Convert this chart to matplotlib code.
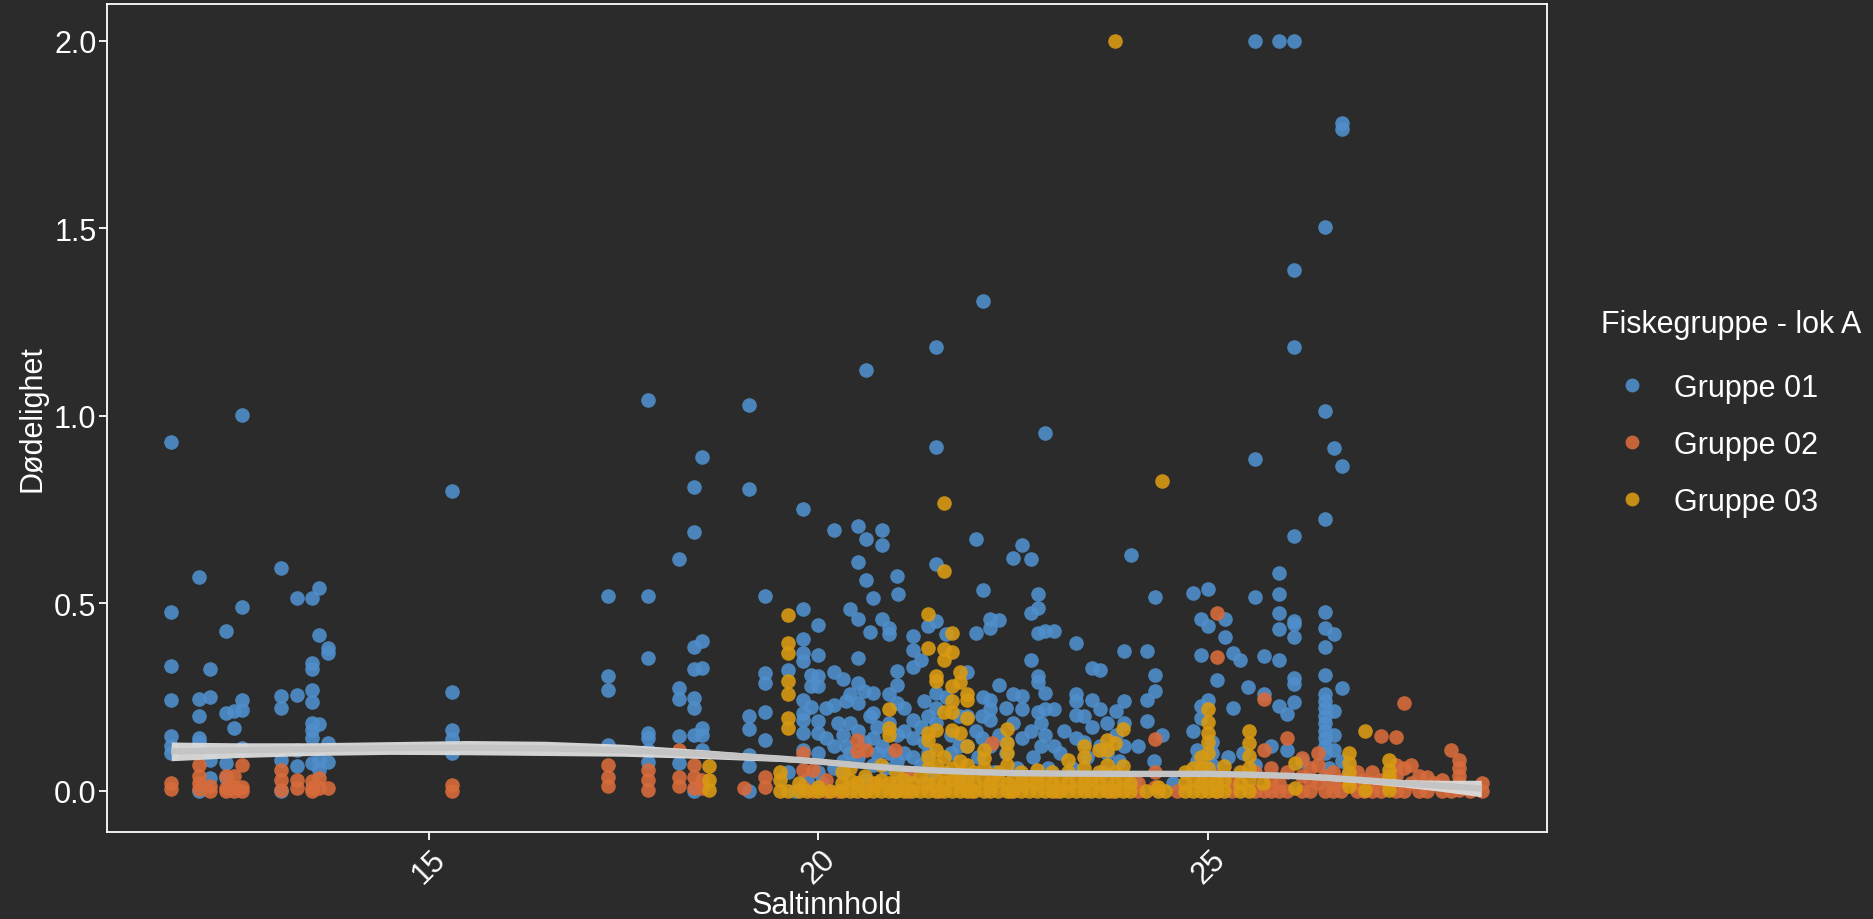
import matplotlib
matplotlib.use("Agg")
import matplotlib.pyplot as plt
from matplotlib.lines import Line2D
import numpy as np

plt.rcParams['font.family'] = ['Liberation Sans', 'DejaVu Sans']

# Salinity (x) with the mortality values measured at that salinity, per fish group
g01_columns = [
    (11.70, [0.93, 0.478, 0.332, 0.242, 0.147, 0.12, 0.10]),
    (12.05, [0.57, 0.246, 0.20, 0.14, 0.13, 0.0]),
    (12.20, [0.325, 0.25, 0.083, 0.034]),
    (12.40, [0.426, 0.208, 0.074, 0.034]),
    (12.51, [0.212, 0.168]),
    (12.61, [1.003, 0.49, 0.243, 0.215, 0.114]),
    (13.11, [0.595, 0.252, 0.221, 0.083, 0.0]),
    (13.31, [0.513, 0.255, 0.11, 0.065]),
    (13.50, [0.513, 0.341, 0.325, 0.268, 0.236, 0.18, 0.163, 0.14, 0.074]),
    (13.60, [0.54, 0.415, 0.178, 0.083, 0.056]),
    (13.71, [0.381, 0.368, 0.127, 0.078]),
    (15.30, [0.80, 0.264, 0.163, 0.138, 0.10]),
    (17.30, [0.52, 0.306, 0.27, 0.123]),
    (17.81, [1.043, 0.519, 0.353, 0.154, 0.14, 0.11, 0.078]),
    (18.21, [0.617, 0.275, 0.246, 0.145, 0.074]),
    (18.41, [0.81, 0.69, 0.383, 0.325, 0.248, 0.221, 0.15, 0.0]),
    (18.51, [0.889, 0.40, 0.328, 0.168, 0.15, 0.11]),
    (19.11, [1.028, 0.805, 0.199, 0.165, 0.096, 0.065, 0.0]),
    (19.31, [0.52, 0.313, 0.288, 0.21, 0.136]),
    (19.61, [0.323, 0.05]),
    (19.70, [0.0]),
    (19.80, [0.75, 0.484, 0.404, 0.368, 0.346, 0.243, 0.208, 0.19, 0.154, 0.11]),
    (19.85, [0.03]),
    (19.91, [0.31, 0.28, 0.224]),
    (20.00, [0.443, 0.362, 0.306, 0.279, 0.185, 0.154, 0.10, 0.05]),
    (20.05, [0.02]),
    (20.10, [0.22, 0.14]),
    (20.20, [0.696, 0.316, 0.23, 0.12, 0.06]),
    (20.25, [0.18]),
    (20.31, [0.297, 0.15, 0.08, 0.05]),
    (20.35, [0.24, 0.12]),
    (20.41, [0.486, 0.257, 0.18, 0.10]),
    (20.51, [0.707, 0.609, 0.459, 0.355, 0.288, 0.234, 0.16, 0.09]),
    (20.59, [0.266, 0.13]),
    (20.61, [1.123, 0.672, 0.561, 0.03]),
    (20.66, [0.424, 0.2]),
    (20.70, [0.515, 0.261, 0.207, 0.14, 0.07]),
    (20.75, [0.17, 0.1]),
    (20.81, [0.696, 0.656, 0.459, 0.12]),
    (20.85, [0.06]),
    (20.90, [0.435, 0.417, 0.257, 0.18, 0.1]),
    (21.01, [0.574, 0.319, 0.283, 0.233, 0.15, 0.08]),
    (21.02, [0.524]),
    (21.10, [0.22, 0.16, 0.1, 0.04]),
    (21.21, [0.413, 0.375, 0.33, 0.19, 0.14, 0.09]),
    (21.31, [0.35, 0.17, 0.07]),
    (21.35, [0.24, 0.13]),
    (21.41, [0.44, 0.2, 0.1]),
    (21.45, [0.05]),
    (21.51, [1.184, 0.916, 0.604, 0.453, 0.261, 0.22, 0.18]),
    (21.63, [0.417, 0.25]),
    (21.70, [0.15, 0.1]),
    (21.80, [0.2, 0.12]),
    (21.85, [0.04]),
    (21.91, [0.316, 0.2, 0.12]),
    (22.02, [0.672, 0.42, 0.16]),
    (22.05, [0.09]),
    (22.10, [0.2, 0.14]),
    (22.11, [1.307, 0.535, 0.25]),
    (22.20, [0.459, 0.435, 0.243, 0.217, 0.19, 0.12]),
    (22.25, [0.05]),
    (22.32, [0.455, 0.283, 0.15]),
    (22.40, [0.22, 0.13, 0.1]),
    (22.50, [0.62, 0.257, 0.18]),
    (22.55, [0.06]),
    (22.61, [0.656, 0.252, 0.217, 0.14]),
    (22.72, [0.617, 0.475, 0.348, 0.16]),
    (22.75, [0.09]),
    (22.81, [0.524, 0.488, 0.422, 0.307, 0.29, 0.21]),
    (22.85, [0.18, 0.12]),
    (22.91, [0.955, 0.426, 0.261, 0.217, 0.15]),
    (22.95, [0.06]),
    (23.02, [0.426, 0.217, 0.12]),
    (23.10, [0.1]),
    (23.15, [0.16]),
    (23.25, [0.06]),
    (23.30, [0.393, 0.257, 0.239, 0.203, 0.14]),
    (23.40, [0.2, 0.13]),
    (23.45, [0.09]),
    (23.51, [0.327, 0.243, 0.17]),
    (23.61, [0.322, 0.217, 0.12]),
    (23.65, [0.05]),
    (23.70, [0.18, 0.1]),
    (23.81, [0.214, 0.15]),
    (23.85, [0.08]),
    (23.92, [0.373, 0.239, 0.181, 0.119]),
    (24.01, [0.628]),
    (24.05, [0.03]),
    (24.10, [0.12]),
    (24.21, [0.372, 0.242, 0.185]),
    (24.30, [0.08]),
    (24.31, [0.518, 0.308, 0.266]),
    (24.40, [0.15]),
    (24.55, [0.02]),
    (24.80, [0.528, 0.159]),
    (24.85, [0.08, 0.11]),
    (24.91, [0.457, 0.362, 0.225, 0.194]),
    (25.00, [0.539, 0.44, 0.243]),
    (25.05, [0.07, 0.1, 0.13]),
    (25.11, [0.295]),
    (25.21, [0.459, 0.41]),
    (25.25, [0.09]),
    (25.31, [0.368, 0.221]),
    (25.41, [0.348]),
    (25.45, [0.1]),
    (25.51, [0.276]),
    (25.60, [2.0, 0.885, 0.516, 0.07]),
    (25.71, [0.359, 0.257]),
    (25.80, [0.12]),
    (25.90, [2.0, 0.58, 0.524, 0.475, 0.432, 0.35, 0.227]),
    (26.01, [0.205, 0.11]),
    (26.10, [2.0, 1.39, 1.184, 0.679, 0.453, 0.444, 0.41, 0.301, 0.286, 0.236]),
    (26.20, [0.08]),
    (26.50, [1.503, 1.012, 0.726, 0.478, 0.435, 0.383, 0.308, 0.257, 0.24,
             0.22, 0.20, 0.18, 0.16, 0.14, 0.12, 0.10]),
    (26.55, [0.06, 0.03]),
    (26.61, [0.914, 0.417, 0.212, 0.15, 0.11]),
    (26.71, [1.78, 1.765, 0.865, 0.275, 0.08]),
    (26.80, [0.05]),
]

g02_columns = [
    (11.70, [0.02, 0.005]),
    (12.05, [0.07, 0.04, 0.02, 0.005]),
    (12.20, [0.012, 0.0]),
    (12.40, [0.04, 0.007, 0.0]),
    (12.51, [0.04, 0.01, 0.0]),
    (12.61, [0.07, 0.01, 0.0]),
    (13.11, [0.056, 0.03, 0.003]),
    (13.31, [0.03, 0.007]),
    (13.50, [0.025, 0.007, 0.0]),
    (13.60, [0.034, 0.007]),
    (13.71, [0.007]),
    (15.30, [0.016, 0.0]),
    (17.30, [0.07, 0.038, 0.012]),
    (17.81, [0.056, 0.03, 0.003]),
    (18.21, [0.11, 0.038, 0.012]),
    (18.41, [0.07, 0.038, 0.007]),
    (18.51, [0.03, 0.007]),
    (19.05, [0.007]),
    (19.31, [0.038, 0.01]),
    (19.80, [0.10, 0.056, 0.01]),
    (19.93, [0.056, 0.0]),
    (20.10, [0.0, 0.03]),
    (20.25, [0.0]),
    (20.49, [0.136, 0.105, 0.02]),
    (20.61, [0.11, 0.0]),
    (20.75, [0.02]),
    (20.98, [0.11, 0.0]),
    (21.15, [0.04, 0.0]),
    (21.35, [0.02]),
    (21.55, [0.0]),
    (21.75, [0.03]),
    (21.95, [0.0]),
    (22.23, [0.127, 0.03]),
    (22.45, [0.0]),
    (22.65, [0.02]),
    (23.05, [0.0]),
    (23.45, [0.03]),
    (23.75, [0.0]),
    (24.10, [0.02, 0.0]),
    (24.31, [0.138, 0.05, 0.01]),
    (24.60, [0.0]),
    (24.95, [0.02]),
    (25.11, [0.475, 0.357, 0.04, 0.0]),
    (25.30, [0.0, 0.03]),
    (25.60, [0.0, 0.05]),
    (25.71, [0.245, 0.11, 0.0]),
    (25.80, [0.0, 0.03, 0.06]),
    (25.90, [0.0, 0.02]),
    (26.01, [0.141, 0.05, 0.0]),
    (26.20, [0.087, 0.04, 0.0]),
    (26.30, [0.0, 0.03, 0.06]),
    (26.40, [0.10, 0.07, 0.02]),
    (26.50, [0.0, 0.04]),
    (26.60, [0.0, 0.02, 0.05]),
    (26.70, [0.0, 0.03]),
    (26.90, [0.0, 0.02, 0.05]),
    (27.00, [0.0, 0.03]),
    (27.10, [0.0, 0.02, 0.05]),
    (27.21, [0.145, 0.0, 0.03]),
    (27.41, [0.143, 0.07, 0.0, 0.04]),
    (27.51, [0.233, 0.06, 0.0]),
    (27.60, [0.07, 0.02]),
    (27.70, [0.0, 0.04]),
    (27.81, [0.038, 0.0]),
    (27.90, [0.02]),
    (28.00, [0.0, 0.03]),
    (28.11, [0.11, 0.0]),
    (28.21, [0.083, 0.06, 0.04, 0.02, 0.003]),
    (28.35, [0.0]),
    (28.51, [0.02, 0.0]),
]

g03_columns = [
    (18.60, [0.065, 0.03, 0.003]),
    (19.51, [0.05, 0.03, 0.0]),
    (19.61, [0.47, 0.395, 0.368, 0.292, 0.257, 0.194, 0.168, 0.0]),
    (19.75, [0.0, 0.02]),
    (19.85, [0.0]),
    (19.99, [0.0, 0.01]),
    (20.15, [0.0]),
    (20.30, [0.0, 0.02, 0.05]),
    (20.40, [0.0, 0.03, 0.06]),
    (20.50, [0.0, 0.02]),
    (20.60, [0.0, 0.04]),
    (20.70, [0.0, 0.02]),
    (20.80, [0.0, 0.03, 0.07]),
    (20.90, [0.217, 0.168, 0.15, 0.0, 0.02]),
    (21.00, [0.0, 0.02, 0.05]),
    (21.10, [0.0, 0.03]),
    (21.20, [0.0, 0.02]),
    (21.30, [0.0, 0.04]),
    (21.41, [0.472, 0.381, 0.154, 0.136, 0.0, 0.02, 0.06, 0.09]),
    (21.51, [0.306, 0.292, 0.163, 0.11, 0.0, 0.03, 0.07]),
    (21.61, [0.767, 0.585, 0.377, 0.35, 0.21, 0.0, 0.02, 0.05, 0.09]),
    (21.71, [0.42, 0.37, 0.279, 0.239, 0.21, 0.163, 0.0, 0.03, 0.06]),
    (21.81, [0.316, 0.29, 0.154, 0.0, 0.02, 0.05, 0.08]),
    (21.91, [0.257, 0.243, 0.194, 0.119, 0.0, 0.03, 0.07]),
    (22.00, [0.0, 0.02, 0.05]),
    (22.12, [0.11, 0.087, 0.0, 0.03, 0.06]),
    (22.20, [0.0, 0.02]),
    (22.30, [0.0, 0.03, 0.05]),
    (22.42, [0.166, 0.127, 0.1, 0.0, 0.02, 0.07]),
    (22.50, [0.0, 0.03]),
    (22.60, [0.0, 0.02, 0.05]),
    (22.70, [0.0, 0.03]),
    (22.80, [0.056, 0.0, 0.02, 0.04]),
    (22.90, [0.0, 0.03]),
    (23.00, [0.0, 0.02, 0.05]),
    (23.10, [0.0, 0.03]),
    (23.20, [0.083, 0.0, 0.02, 0.05]),
    (23.30, [0.0, 0.03]),
    (23.40, [0.12, 0.0, 0.02, 0.06, 0.09]),
    (23.50, [0.0, 0.03]),
    (23.60, [0.11, 0.0, 0.02, 0.05]),
    (23.70, [0.136, 0.11, 0.0, 0.03, 0.07]),
    (23.80, [2.0, 0.127, 0.0, 0.02, 0.05]),
    (23.91, [0.166, 0.065, 0.0, 0.03]),
    (24.00, [0.0, 0.02]),
    (24.20, [0.0]),
    (24.35, [0.0, 0.01]),
    (24.41, [0.827]),
    (24.45, [0.0]),
    (24.70, [0.0, 0.02, 0.05]),
    (24.80, [0.0, 0.03, 0.06]),
    (24.90, [0.0, 0.02, 0.06, 0.09]),
    (25.00, [0.217, 0.183, 0.154, 0.0, 0.03, 0.06, 0.1, 0.13]),
    (25.10, [0.0, 0.02]),
    (25.20, [0.0, 0.03, 0.065]),
    (25.40, [0.0, 0.02, 0.05]),
    (25.52, [0.159, 0.127, 0.092, 0.0, 0.03, 0.06]),
    (25.70, [0.02]),
    (26.11, [0.074, 0.007]),
    (26.81, [0.10, 0.074, 0.05, 0.03, 0.012]),
    (27.01, [0.159, 0.003]),
    (27.32, [0.083, 0.056, 0.04, 0.02, 0.003]),
]

# Smoothed trend (loess) with its standard-error half width
trend_x = [11.7, 12.5, 13.5, 14.5, 15.5, 16.5, 17.5, 18.5, 19.0, 19.5, 20.0, 20.5, 21.0,
           21.5, 22.0, 22.5, 23.0, 24.0, 25.0, 25.5, 26.0, 26.5, 27.0, 27.5, 28.0, 28.5]
trend_y = [0.105, 0.108, 0.111, 0.114, 0.115, 0.113, 0.108, 0.098, 0.092, 0.086, 0.078,
           0.068, 0.060, 0.054, 0.050, 0.047, 0.046, 0.045, 0.045, 0.043, 0.040, 0.035,
           0.028, 0.020, 0.013, 0.006]
trend_se = [0.025, 0.02, 0.017, 0.017, 0.019, 0.019, 0.016, 0.012, 0.010, 0.008, 0.006,
            0.006, 0.005, 0.005, 0.005, 0.005, 0.005, 0.005, 0.005, 0.005, 0.006, 0.007,
            0.008, 0.010, 0.015, 0.022]

legend_title = "Fiskegruppe - lok A"
group_labels = ["Gruppe 01", "Gruppe 02", "Gruppe 03"]
group_colors = ["#4f8fcb", "#d76b3b", "#d89a12"]
x_ticks = [15, 20, 25]
y_ticks = [0.0, 0.5, 1.0, 1.5, 2.0]


def flatten(columns):
    xs, ys = [], []
    for x, vals in columns:
        xs.extend([x] * len(vals))
        ys.extend(vals)
    return np.array(xs), np.array(ys)


bg = "#2b2b2b"
fs = 22
fig = plt.figure(figsize=(18.74, 9.2), dpi=100, facecolor=bg)
ax = fig.add_axes([107 / 1874, 1 - 833 / 920, 1440 / 1874, 828 / 920])
ax.set_facecolor(bg)

for cols, color in zip([g01_columns, g02_columns, g03_columns], group_colors):
    xs, ys = flatten(cols)
    ax.scatter(xs, ys, s=110, color=color, alpha=0.9, linewidths=0, zorder=2)

tx = np.array(trend_x)
ty = np.array(trend_y)
tse = np.array(trend_se)
ax.fill_between(tx, ty - tse, ty + tse, color="#dcdcdc", alpha=0.95, lw=0, zorder=3)
ax.plot(tx, ty, color="#c4c4c4", lw=4.6, zorder=4, solid_capstyle="butt")

ax.set_xlim(10.876, 29.343)
ax.set_ylim(-0.110, 2.098)
ax.set_xticks(x_ticks)
ax.set_xticklabels([str(t) for t in x_ticks], rotation=45, ha="center", va="top")
ax.set_yticks(y_ticks)
ax.set_yticklabels([f"{t:.1f}" for t in y_ticks])

for sp in ax.spines.values():
    sp.set_color("white")
    sp.set_linewidth(1.3)
ax.tick_params(colors="white", labelcolor="white", length=5.5, width=1.3,
               labelsize=fs, direction="out")
ax.tick_params(axis="y", pad=2)
ax.tick_params(axis="x", pad=3)

ax.set_xlabel("Saltinnhold", color="white", fontsize=fs)
ax.set_ylabel("Dødelighet", color="white", fontsize=fs)
ax.xaxis.set_label_coords(0.5, -0.070)
ax.yaxis.set_label_coords(-0.0413, 0.5)

# Legend: title as its own text, keys below it
fig.text(1601 / 1874, 1 - 325.5 / 920, legend_title, color="white", fontsize=fs,
         ha="left", va="center")
handles = [Line2D([], [], marker="o", ls="", color=c, markersize=10, alpha=0.9,
                  markeredgewidth=0) for c in group_colors]
leg = fig.legend(handles, group_labels,
                 loc="upper left", bbox_to_anchor=(1601 / 1874, 1 - 374 / 920),
                 bbox_transform=fig.transFigure, frameon=False, fontsize=fs,
                 labelspacing=0.88, handlelength=2.0,
                 handletextpad=0.4, borderpad=0, borderaxespad=0,
                 labelcolor="white")

fig.savefig("out.png", dpi=100, facecolor=bg)
